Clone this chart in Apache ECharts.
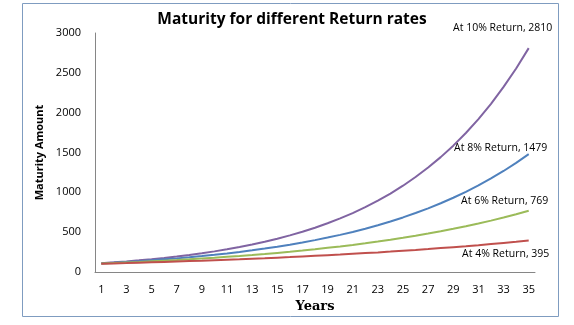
<!DOCTYPE html>
<html>
<head>
<meta charset="utf-8">
<script src="https://cdn.jsdelivr.net/npm/echarts@6/dist/echarts.min.js"></script>
<style>html,body{margin:0;padding:0;background:#fff}#c{width:574px;height:325px}</style>
</head>
<body>
<div id="c"></div>
<script>
var years = [1,2,3,4,5,6,7,8,9,10,11,12,13,14,15,16,17,18,19,20,21,22,23,24,25,26,27,28,29,30,31,32,33,34,35];
var r10 = [110,121,133,146,161,177,195,214,236,259,285,314,345,380,418,460,505,556,612,673,740,814,895,985,1083,1192,1311,1442,1586,1745,1919,2111,2323,2555,2810];
var r8 = [108,117,126,136,147,159,171,185,200,216,233,252,272,294,317,343,370,400,432,466,503,544,587,634,685,740,799,863,932,1006,1087,1174,1268,1369,1479];
var r6 = [106,112,119,126,134,142,150,159,169,179,190,201,213,226,240,254,269,285,303,321,340,360,382,405,429,455,482,511,542,574,609,645,684,725,769];
var r4 = [104,108,112,117,122,127,132,137,142,148,154,160,167,173,180,187,195,203,211,219,228,237,246,256,267,277,288,300,312,324,337,351,365,379,395];
var seriesNames = ['At 10% Return','At 8% Return','At 6% Return','At 4% Return'];
var yTicks = [0,500,1000,1500,2000,2500,3000];

var font = 'Open Sans, Liberation Sans, sans-serif';
function mk(name, vals, color, pos, off) {
  var d = vals.map(function (v, i) {
    if (i === vals.length - 1) {
      return { value: v, label: { show: true, position: pos, offset: off,
        formatter: name + ', ' + v, color: '#000', fontSize: 10.5, fontFamily: font } };
    }
    return v;
  });
  return { type: 'line', name: name, data: d, symbol: 'circle', symbolSize: 0, showSymbol: true,
    lineStyle: { color: color, width: 2 }, itemStyle: { color: color }, silent: true, animation: false };
}
var chart = echarts.init(document.getElementById('c'));
chart.setOption({
  animation: false,
  title: { text: 'Maturity for different Return rates', left: 287, top: 7, textAlign: 'center',
    textStyle: { fontFamily: font, fontWeight: 'bold', fontSize: 15.5, color: '#000' } },
  graphic: [{ type: 'rect', shape: { x: 22.5, y: 3.5, width: 536, height: 313 },
    style: { fill: 'none', stroke: '#7f9cc0', lineWidth: 1 }, silent: true }],
  grid: { left: 95, right: 39, top: 33, bottom: 53 },
  xAxis: { type: 'category', data: years, boundaryGap: true,
    name: 'Years', nameLocation: 'middle', nameGap: 25,
    nameTextStyle: { fontFamily: 'DejaVu Serif, Liberation Serif, serif', fontWeight: 'bold', fontSize: 13, color: '#000' },
    axisLine: { lineStyle: { color: '#868686' } }, axisTick: { show: false },
    axisLabel: { interval: 1, color: '#000', fontSize: 11, fontFamily: font, margin: 12 } },
  yAxis: { type: 'value', min: 0, max: 3000, interval: 500,
    name: 'Maturity Amount', nameLocation: 'middle', nameGap: 50, nameMoveOverlap: false,
    nameTextStyle: { fontFamily: font, fontWeight: 'bold', fontSize: 11, color: '#000' },
    axisLine: { show: true, lineStyle: { color: '#868686' } }, axisTick: { show: false },
    splitLine: { show: false },
    axisLabel: { color: '#000', fontSize: 11, fontFamily: font, margin: 14,
      formatter: function (v) { return yTicks.indexOf(v) >= 0 ? String(v) : ''; } } },
  series: [
    mk(seriesNames[0], r10, '#8064A2', 'top', [-26, -10]),
    mk(seriesNames[1], r8, '#4F81BD', 'top', [-28, 4]),
    mk(seriesNames[2], r6, '#9BBB59', 'top', [-24, 1]),
    mk(seriesNames[3], r4, '#C0504D', 'bottom', [-23, 3])
  ]
});
</script>
</body>
</html>
